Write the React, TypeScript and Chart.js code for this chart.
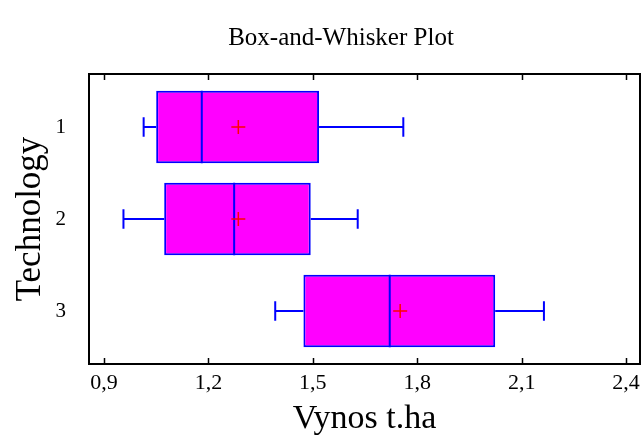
import React, { useEffect, useRef } from "react";
import { Chart, registerables } from "chart.js";

Chart.register(...registerables);

const categories = ["1", "2", "3"];
const mins = [1.014, 0.956, 1.392];
const q1s = [1.05, 1.073, 1.473];
const medians = [1.181, 1.274, 1.721];
const means = [1.286, 1.286, 1.751];
const q3s = [1.518, 1.494, 2.024];
const maxs = [1.76, 1.629, 2.164];
const xTicks = [0.9, 1.2, 1.5, 1.8, 2.1, 2.4];

const FONT = "'Liberation Serif', 'Times New Roman', serif";

const boxPlugin = {
  id: "boxExtras",
  afterLayout(chart: any) {
    const tb = chart.titleBlock;
    if (tb) {
      tb.left += 21;
      tb.right += 21;
    }
  },
  afterDatasetDraw(chart: any, args: any) {
    if (args.index !== 0) return;
    const ctx = chart.ctx;
    const xs = chart.scales.x;
    const ys = chart.scales.y;
    ctx.save();
    ctx.strokeStyle = "#0000FF";
    ctx.lineWidth = 2;
    categories.forEach((_, i) => {
      const yc = ys.getPixelForValue(i + 1);
      const half = Math.abs(ys.getPixelForValue(i + 1 + 0.105) - yc);
      const bar = chart.getDatasetMeta(0).data[i];
      const bh = bar.height;
      const pMin = xs.getPixelForValue(mins[i]);
      const pMax = xs.getPixelForValue(maxs[i]);
      const pQ1 = xs.getPixelForValue(q1s[i]);
      const pQ3 = xs.getPixelForValue(q3s[i]);
      const pMed = xs.getPixelForValue(medians[i]);
      ctx.beginPath();
      ctx.moveTo(pMin, yc);
      ctx.lineTo(pQ1, yc);
      ctx.moveTo(pQ3, yc);
      ctx.lineTo(pMax, yc);
      ctx.moveTo(pMin, yc - half);
      ctx.lineTo(pMin, yc + half);
      ctx.moveTo(pMax, yc - half);
      ctx.lineTo(pMax, yc + half);
      ctx.moveTo(pMed, yc - bh / 2);
      ctx.lineTo(pMed, yc + bh / 2);
      ctx.stroke();
    });
    ctx.restore();
  },
  afterDraw(chart: any) {
    const ctx = chart.ctx;
    const a = chart.chartArea;
    const xs = chart.scales.x;
    ctx.save();
    ctx.strokeStyle = "#000";
    ctx.lineWidth = 2;
    ctx.strokeRect(a.left, a.top, a.right - a.left, a.bottom - a.top);
    ctx.lineWidth = 1.5;
    ctx.beginPath();
    xTicks.forEach((v) => {
      const px = Math.round(xs.getPixelForValue(v)) + 0.5;
      ctx.moveTo(px, a.bottom);
      ctx.lineTo(px, a.bottom - 6);
      ctx.moveTo(px, a.top);
      ctx.lineTo(px, a.top + 6);
    });
    ctx.stroke();
    ctx.restore();
  },
};

export default function App() {
  const ref = useRef<HTMLCanvasElement | null>(null);
  useEffect(() => {
    if (!ref.current) return;
    Chart.defaults.font.family = FONT;
    const chart = new Chart(ref.current, {
      type: "bar",
      data: {
        datasets: [
          {
            type: "bar",
            indexAxis: "y",
            order: 2,
            data: categories.map((c, i) => ({ y: i + 1, x: [q1s[i], q3s[i]] })) as any,
            backgroundColor: "#FF00FF",
            borderColor: "#0000FF",
            borderWidth: 2,
            borderSkipped: false,
            categoryPercentage: 1,
            barPercentage: 0.79,
            xAxisID: "x",
            yAxisID: "y",
          } as any,
          {
            type: "scatter",
            order: 1,
            data: categories.map((c, i) => ({ x: means[i], y: i + 1 })),
            pointStyle: "cross",
            pointRadius: 7,
            pointBorderColor: "#FF0000",
            pointBorderWidth: 1.5,
            xAxisID: "x",
            yAxisID: "y",
          } as any,
        ],
      },
      options: {
        animation: false,
        responsive: false,
        layout: { autoPadding: false, padding: { top: 0, right: 3, left: 0, bottom: 0 } },
        plugins: {
          legend: { display: false },
          tooltip: { enabled: false },
          title: {
            display: true,
            text: "Box-and-Whisker Plot",
            color: "#000",
            font: { size: 25, weight: "normal", family: FONT },
            padding: { top: 23, bottom: 21 },
          },
        },
        scales: {
          x: {
            type: "linear",
            position: "bottom",
            offset: false,
            min: 0.857,
            max: 2.44,
            afterBuildTicks: (s: any) => {
              s.ticks = xTicks.map((v) => ({ value: v }));
            },
            afterFit: (s: any) => {
              s.height = 78;
              s.paddingLeft = 0;
              s.paddingRight = 0;
            },
            grid: { display: false, drawTicks: false, offset: false },
            border: { display: false },
            ticks: {
              color: "#000",
              padding: 6,
              font: { size: 22, family: FONT },
              maxRotation: 0,
              autoSkip: false,
              callback: (v: any) => Number(v).toFixed(1).replace(".", ","),
            },
            title: {
              display: true,
              text: "Vynos t.ha",
              color: "#000",
              font: { size: 34, family: FONT },
              padding: { top: 0, bottom: 3 },
            },
          },
          y: {
            type: "linear",
            position: "left",
            offset: false,
            reverse: true,
            min: 0.424,
            max: 3.576,
            afterBuildTicks: (s: any) => {
              s.ticks = categories.map((c, i) => ({ value: i + 1 }));
            },
            afterFit: (s: any) => {
              s.width = 89;
              s.paddingTop = 0;
              s.paddingBottom = 0;
            },
            grid: { display: false, drawTicks: false, offset: false },
            border: { display: false },
            ticks: {
              color: "#000",
              padding: 23,
              font: { size: 21, family: FONT },
              autoSkip: false,
              callback: (v: any, i: number) => categories[i],
            },
            title: {
              display: true,
              text: "Technology",
              color: "#000",
              font: { size: 35, family: FONT },
              padding: { top: 10, bottom: 0 },
            },
          },
        },
      },
      plugins: [boxPlugin],
    } as any);
    return () => chart.destroy();
  }, []);
  return (
    <div style={{ position: "fixed", left: 0, top: 0, width: 643, height: 442, background: "#fff" }}>
      <canvas ref={ref} width={643} height={442} style={{ display: "block" }} />
    </div>
  );
}
